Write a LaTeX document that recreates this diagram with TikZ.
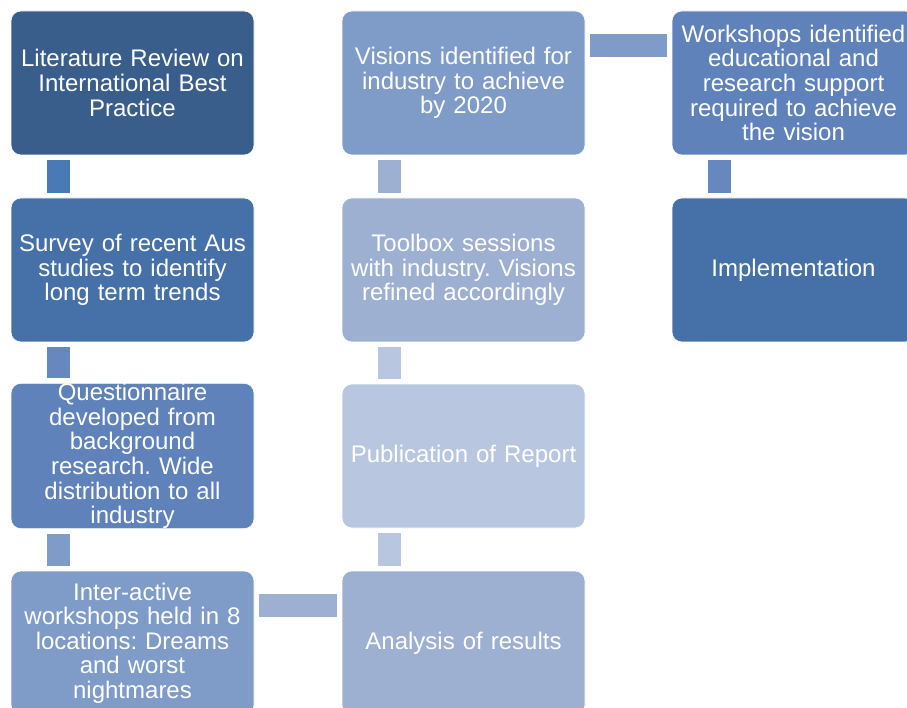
\documentclass[tikz,border=0pt]{standalone}
\usepackage{fontspec}
\setmainfont{Liberation Sans}
\usetikzlibrary{calc}
\frenchspacing

\definecolor{stepA}{RGB}{58,94,140}
\definecolor{stepB}{RGB}{70,113,168}
\definecolor{stepC}{RGB}{94,130,185}
\definecolor{stepD}{RGB}{127,155,199}
\definecolor{stepE}{RGB}{157,176,210}
\definecolor{stepF}{RGB}{185,198,224}
\definecolor{linkA}{RGB}{74,122,181}
\definecolor{linkB}{RGB}{102,136,190}

\begin{document}
\begin{tikzpicture}[x=1pt, y=-1pt,
  stage/.style={rectangle, rounded corners=10pt, draw=white, line width=0.6pt,
    minimum width=243pt, minimum height=144pt, inner sep=0pt,
    text width=240pt, align=center, text=white,
    font=\fontsize{24}{24.6}\selectfont},
  link/.style={line width=23pt, line cap=butt}]
%%% process flow %%%

      \clip (0,0) rectangle (907,708);
      %%
      \node[stage, fill=stepA] (review) at (132.5,83) {Literature Review on\\ International Best\\ Practice};
      %
      \node[stage, fill=stepB] (survey) at (132.5,270) {Survey of recent Aus\\ studies to identify\\ long term trends};
      %
      \node[stage, fill=stepC] (quest) at (132.5,456) {Questionnaire\\ developed from\\ background\\ research. Wide\\ distribution to all\\ industry};
      %
      \node[stage, fill=stepD] (work) at (132.5,643) {Inter-active\\ workshops held in 8\\ locations: Dreams\\ and worst\\ nightmares};
      %%
      \node[stage, fill=stepE] (analysis) at (463.5,643) {Analysis of results};
      %
      \node[stage, fill=stepF] (report) at (463.5,456) {Publication of Report};
      %
      \node[stage, fill=stepE] (toolbox) at (463.5,270) {Toolbox sessions\\ with industry. Visions\\ refined accordingly};
      %
      \node[stage, fill=stepD] (visions) at (463.5,83) {Visions identified for\\ industry to achieve\\ by 2020};
      %%
      \node[stage, fill=stepC] (support) at (793.5,83) {Workshops identified\\ educational and\\ research support\\ required to achieve\\ the vision};
      %
      \node[stage, fill=stepB] (implement) at (793.5,270) {Implementation};

      %% connectors
      \draw[link, linkA] ([shift={(47.5,5)}]review.south west) -- ([shift={(47.5,-5)}]survey.north west);
      \draw[link, linkB] ([shift={(47.5,5)}]survey.south west) -- ([shift={(47.5,-5)}]quest.north west);
      \draw[link, stepD] ([shift={(47.5,5)}]quest.south west) -- ([shift={(47.5,-5)}]work.north west);
      \draw[link, stepE] ([shift={(5,34.5)}]work.north east) -- ([shift={(-5,34.5)}]analysis.north west);
      \draw[link, stepF] ([shift={(47.5,-5)}]analysis.north west) -- ([shift={(47.5,5)}]report.south west);
      \draw[link, stepF] ([shift={(47.5,-5)}]report.north west) -- ([shift={(47.5,5)}]toolbox.south west);
      \draw[link, stepE] ([shift={(47.5,-5)}]toolbox.north west) -- ([shift={(47.5,5)}]visions.south west);
      \draw[link, stepD] ([shift={(5,34.5)}]visions.north east) -- ([shift={(-5,34.5)}]support.north west);
      \draw[link, linkB] ([shift={(47.5,5)}]support.south west) -- ([shift={(47.5,-5)}]implement.north west);

\end{tikzpicture}
\end{document}
